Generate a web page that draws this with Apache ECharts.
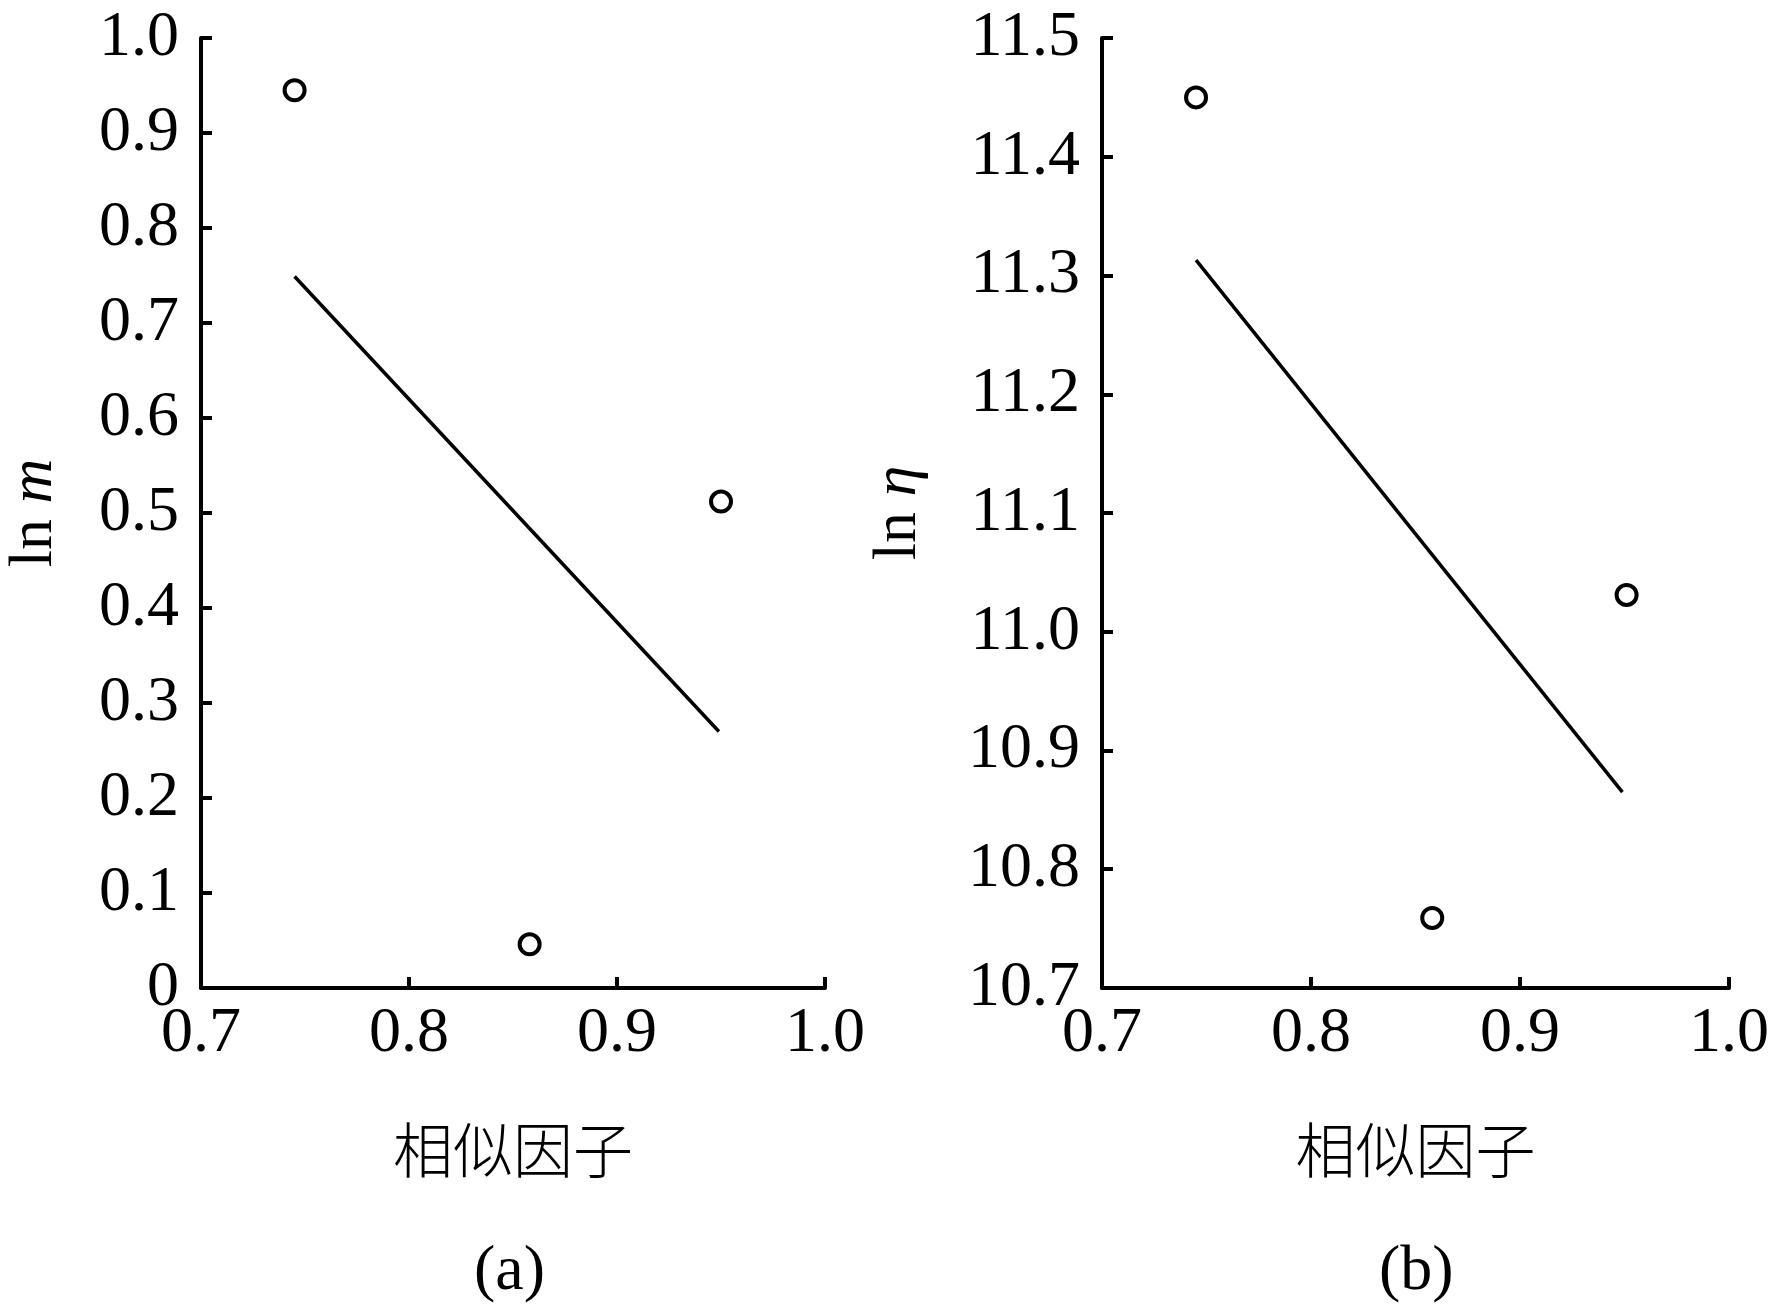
<!DOCTYPE html>
<html>
<head>
<meta charset="utf-8">
<script src="https://cdn.jsdelivr.net/npm/echarts@6/dist/echarts.min.js"></script>
<style>
html,body{margin:0;padding:0;background:#fff;}
#chart{width:1772px;height:1309px;}
</style>
</head>
<body>
<div id="chart"></div>
<script>
// Panel (a): ln m vs similarity factor
const pointsAX = [0.745, 0.858, 0.95];
const pointsAY = [0.945, 0.046, 0.512];
const fitAX = [0.745, 0.949];
const fitAY = [0.749, 0.270];
// Panel (b): ln eta vs similarity factor
const pointsBX = [0.745, 0.858, 0.951];
const pointsBY = [11.450, 10.759, 11.031];
const fitBX = [0.745, 0.949];
const fitBY = [11.313, 10.865];

const xAxisName = '相似因子';
const panelLabels = ['(a)', '(b)'];

const serif = 'Liberation Serif';
const pair = (xs, ys) => xs.map((x, i) => [x, ys[i]]);

const axisLineStyle = {lineStyle: {color: '#000', width: 4}};
const tickStyle = {show: true, inside: true, length: 11, lineStyle: {color: '#000', width: 4}};
const labelStyle = {color: '#000', fontFamily: serif, fontSize: 64};

function xAxis(gridIndex) {
  return {
    type: 'value', gridIndex, min: 0.7, max: 1.0, interval: 0.1,
    axisLine: axisLineStyle, axisTick: tickStyle, splitLine: {show: false},
    axisLabel: Object.assign({margin: 14, formatter: v => v.toFixed(1)}, labelStyle),
    name: xAxisName, nameLocation: 'middle', nameGap: 132,
    nameTextStyle: {color: '#000', fontFamily: 'Noto Sans CJK SC', fontSize: 60, fontWeight: 300}
  };
}

function yAxis(gridIndex, min, max, fmt, nameVar, gap) {
  return {
    type: 'value', gridIndex, min, max, interval: 0.1,
    axisLine: axisLineStyle, axisTick: tickStyle, splitLine: {show: false},
    axisLabel: Object.assign({margin: 22, formatter: fmt}, labelStyle),
    name: '{n|ln }{v|' + nameVar + '}', nameLocation: 'middle', nameRotate: 90, nameGap: gap,
    nameTextStyle: {
      color: '#000', fontFamily: serif, fontSize: 62,
      rich: {
        n: {fontFamily: serif, fontSize: 62, color: '#000'},
        v: {fontFamily: serif, fontSize: 62, fontStyle: 'italic', color: '#000'}
      }
    }
  };
}

function scatter(i, xs, ys) {
  return {
    type: 'scatter', xAxisIndex: i, yAxisIndex: i, data: pair(xs, ys),
    symbol: 'circle', symbolSize: 20,
    itemStyle: {color: '#fff', borderColor: '#000', borderWidth: 4, opacity: 1},
    z: 3
  };
}

function fit(i, xs, ys) {
  return {
    type: 'line', xAxisIndex: i, yAxisIndex: i, data: pair(xs, ys),
    showSymbol: false, symbol: 'none',
    lineStyle: {color: '#000', width: 3.5}
  };
}

const chart = echarts.init(document.getElementById('chart'));
chart.setOption({
  backgroundColor: '#fff',
  animation: false,
  grid: [
    {left: 201, top: 38, width: 624, height: 950},
    {left: 1102, top: 38, width: 627, height: 950}
  ],
  xAxis: [xAxis(0), xAxis(1)],
  yAxis: [
    yAxis(0, 0, 1.0, v => (v === 0 ? '0' : v.toFixed(1)), 'm', 135),
    yAxis(1, 10.7, 11.5, v => v.toFixed(1), 'η', 172)
  ],
  series: [
    scatter(0, pointsAX, pointsAY),
    fit(0, fitAX, fitAY),
    scatter(1, pointsBX, pointsBY),
    fit(1, fitBX, fitBY)
  ],
  graphic: [
    {type: 'text', left: 514 - 40, top: 1240, style: {text: panelLabels[0], fontFamily: serif, fontSize: 64, fill: '#000'}},
    {type: 'text', left: 1419 - 40, top: 1240, style: {text: panelLabels[1], fontFamily: serif, fontSize: 64, fill: '#000'}}
  ]
});
</script>
</body>
</html>
